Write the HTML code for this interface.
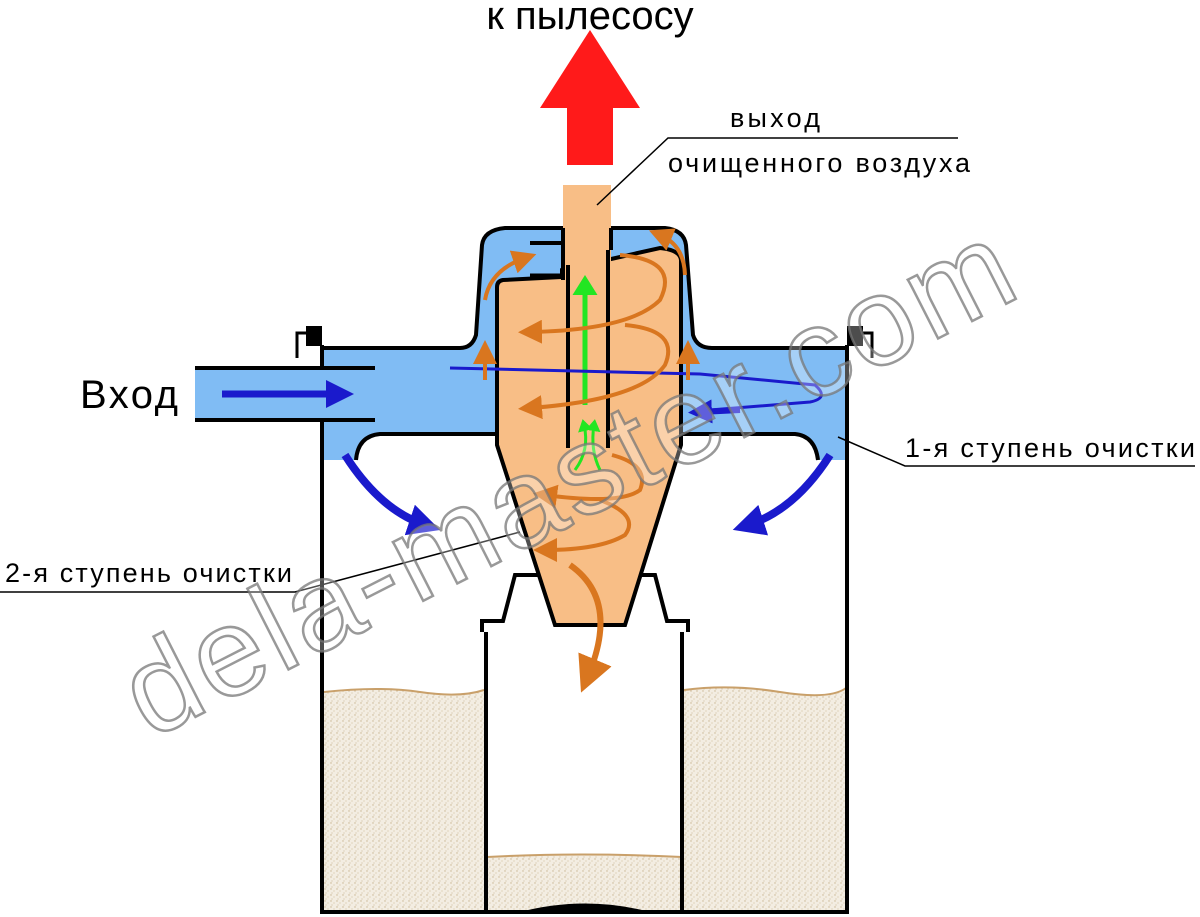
<!DOCTYPE html>
<html><head><meta charset="utf-8"><style>
html,body{margin:0;padding:0;background:#fff;}
svg{display:block;}
text{font-family:"Liberation Sans",sans-serif;}
</style></head><body>
<svg width="1200" height="917" viewBox="0 0 1200 917" xmlns="http://www.w3.org/2000/svg">
<defs>
<pattern id="dust" width="6" height="6" patternUnits="userSpaceOnUse">
<rect width="6" height="6" fill="#f3ede2"/>
<circle cx="1" cy="1" r="0.7" fill="#c9b592"/><circle cx="4" cy="3" r="0.6" fill="#d6c4a3"/><circle cx="2" cy="5" r="0.5" fill="#bfa985"/>
</pattern>
<marker id="ob" markerWidth="6" markerHeight="6" refX="3" refY="3" orient="auto" markerUnits="strokeWidth"><path d="M0,0 L6,3 L0,6 z" fill="#d9761f"/></marker>
<marker id="bb" markerWidth="4" markerHeight="4" refX="2" refY="2" orient="auto" markerUnits="strokeWidth"><path d="M0,0 L4,2 L0,4 z" fill="#1a1acc"/></marker>
<marker id="gb" markerWidth="4" markerHeight="5" refX="2" refY="2.5" orient="auto" markerUnits="strokeWidth"><path d="M0,0 L4,2.5 L0,5 z" fill="#22e622"/></marker>
</defs>

<path d="M324,692 Q380,686 420,692 T484,690 L484,910 L324,910 Z" fill="url(#dust)"/>
<path d="M684,690 Q730,684 780,692 T846,688 L846,910 L684,910 Z" fill="url(#dust)"/>
<path d="M324,692 Q380,686 420,692 T484,690" fill="none" stroke="#c9a06a" stroke-width="2"/>
<path d="M684,690 Q730,684 780,692 T846,688" fill="none" stroke="#c9a06a" stroke-width="2"/>
<path d="M487,857 Q580,852 682,857 L682,910 L487,910 Z" fill="url(#dust)"/>
<path d="M487,857 Q580,852 682,857" fill="none" stroke="#c9a06a" stroke-width="2"/>

<line x1="322" y1="345" x2="322" y2="913" stroke="#000" stroke-width="4"/>
<line x1="847" y1="345" x2="847" y2="913" stroke="#000" stroke-width="4"/>
<line x1="320" y1="912" x2="849" y2="912" stroke="#000" stroke-width="4"/>
<path d="M520,912 Q585,895 650,912" fill="#000"/>

<line x1="486" y1="630" x2="486" y2="912" stroke="#000" stroke-width="4"/>
<line x1="682" y1="630" x2="682" y2="912" stroke="#000" stroke-width="4"/>
<path d="M482,632 L482,621 L503,621 L515,575 L655,575 L667,621 L688,621 L688,632" fill="#fff" stroke="#000" stroke-width="4"/>

<path d="M324,348 L460,348 Q472,348 476,335 L482,245 Q484,230 505,228 L665,228 Q684,230 686,245 L693,335 Q697,348 712,348 L845,348 L845,460 L818,460 Q815,436 795,434 L380,434 Q358,436 356,460 L324,460 Z" fill="#80bcf4"/>
<path d="M324,348 L460,348 Q472,348 476,335 L482,245 Q484,230 505,228 L665,228 Q684,230 686,245 L693,335 Q697,348 712,348 L845,348" fill="none" stroke="#000" stroke-width="4"/>
<path d="M356,460 Q358,436 380,434 L497,434" fill="none" stroke="#000" stroke-width="4"/>
<path d="M680,434 L795,434 Q815,436 818,460" fill="none" stroke="#000" stroke-width="4"/>
<rect x="195" y="368" width="180" height="52" fill="#80bcf4"/>
<line x1="195" y1="368" x2="375" y2="368" stroke="#000" stroke-width="4"/>
<line x1="195" y1="420" x2="375" y2="420" stroke="#000" stroke-width="4"/>
<path d="M297,358 L297,333 L322,333" fill="none" stroke="#000" stroke-width="3"/>
<rect x="306" y="326" width="16" height="20" fill="#000"/>
<path d="M872,358 L872,333 L847,333" fill="none" stroke="#000" stroke-width="3"/>
<rect x="847" y="326" width="16" height="20" fill="#000"/>

<path d="M497,287 Q497,281 503,280 L562,277 L562,270 L660,248 Q680,250 681,260 L681,445 L625,625 L555,625 L497,445 Z" fill="#f8be86" stroke="#000" stroke-width="4"/>
<line x1="530" y1="243" x2="563" y2="243" stroke="#000" stroke-width="4"/>
<line x1="530" y1="276" x2="563" y2="276" stroke="#000" stroke-width="5"/>
<rect x="563" y="185" width="48" height="95" fill="#f8be86"/>
<line x1="563" y1="228" x2="563" y2="280" stroke="#000" stroke-width="4"/>
<line x1="611" y1="228" x2="611" y2="250" stroke="#000" stroke-width="4"/>
<line x1="568" y1="265" x2="568" y2="448" stroke="#000" stroke-width="4"/>
<line x1="608" y1="250" x2="608" y2="448" stroke="#000" stroke-width="4"/>

<path d="M567,165 L567,108 L540,108 L590,30 L640,108 L613,108 L613,165 Z" fill="#ff1a1a"/>

<line x1="585" y1="405" x2="585" y2="285" stroke="#22e622" stroke-width="5" marker-end="url(#gb)"/>
<path d="M575,470 Q590,450 584,425" fill="none" stroke="#22e622" stroke-width="3" marker-end="url(#gb)"/>
<path d="M600,470 Q590,450 594,425" fill="none" stroke="#22e622" stroke-width="3" marker-end="url(#gb)"/>

<line x1="222" y1="394" x2="340" y2="394" stroke="#1a1acc" stroke-width="7" marker-end="url(#bb)"/>
<path d="M450,368 L700,374 L815,385 Q830,398 810,402 L710,410" fill="none" stroke="#1a1acc" stroke-width="3"/>
<path d="M740,410 L700,412" stroke="#1a1acc" stroke-width="6" marker-end="url(#bb)"/>
<path d="M345,455 Q380,510 425,525" fill="none" stroke="#1a1acc" stroke-width="8" marker-end="url(#bb)"/>
<path d="M830,455 Q795,510 748,525" fill="none" stroke="#1a1acc" stroke-width="8" marker-end="url(#bb)"/>

<g fill="none" stroke="#d9761f" stroke-width="4">
<line x1="485" y1="380" x2="485" y2="352" marker-end="url(#ob)"/>
<line x1="688" y1="380" x2="688" y2="352" marker-end="url(#ob)"/>
<path d="M485,300 Q490,270 525,258" marker-end="url(#ob)"/>
<path d="M685,275 Q684,245 660,235" marker-end="url(#ob)"/>
<path d="M620,255 Q680,260 660,300 Q630,330 530,332" marker-end="url(#ob)"/>
<path d="M625,325 Q680,330 665,365 Q640,400 530,408" marker-end="url(#ob)"/>
<path d="M612,455 Q650,465 640,490 Q620,505 545,495" marker-end="url(#ob)"/>
<path d="M600,500 Q640,515 625,535 Q600,550 545,550" marker-end="url(#ob)"/>
<path d="M570,565 Q620,600 588,676" stroke-width="6" marker-end="url(#ob)"/>
</g>

<g stroke="#000" stroke-width="1.5" fill="none">
<polyline points="597,205 668,138 958,138"/>
<polyline points="838,437 905,466 1195,466"/>
<polyline points="520,532 295,592 0,592"/>
</g>

<text x="590" y="29" font-size="40" text-anchor="middle">к пылесосу</text>
<text x="730" y="127" font-size="27" textLength="90">выход</text>
<text x="668" y="172" font-size="27" textLength="302">очищенного воздуха</text>
<text x="80" y="408" font-size="40" textLength="98">Вход</text>
<text x="905" y="457" font-size="27" textLength="290">1-я ступень очистки</text>
<text x="5" y="582" font-size="27" textLength="287">2-я ступень очистки</text>

<text x="0" y="0" font-size="125" fill="#fff" fill-opacity="0.3" stroke="#777" stroke-width="2.5" stroke-opacity="0.75" transform="translate(150,740) rotate(-27)" textLength="980" lengthAdjust="spacing">dela-master.com</text>
</svg>
</body></html>
